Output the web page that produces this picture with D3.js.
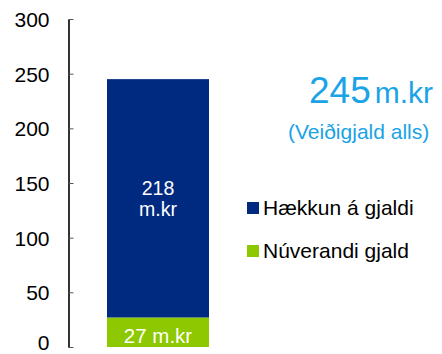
<!DOCTYPE html>
<html>
<head>
<meta charset="utf-8">
<script src="https://cdn.jsdelivr.net/npm/d3@7/dist/d3.min.js"></script>
<style>
  html, body { margin: 0; padding: 0; background: #fff; }
  svg { display: block; font-family: "Liberation Sans", Arial, sans-serif; }
</style>
</head>
<body>
<svg id="chart" width="442" height="354"></svg>
<script>
// Veiðigjald: current fee plus increase, in millions of ISK
const categories = ["Veiðigjald"];
const seriesNames = ["Núverandi gjald", "Hækkun á gjaldi"];
const currentFee = [27];
const feeIncrease = [218];
const barLabels = [["27 m.kr"], ["218", "m.kr"]];
const yTicks = [0, 50, 100, 150, 200, 250, 300];
const legendOrder = ["Hækkun á gjaldi", "Núverandi gjald"];
const totalLabel = "245";
const totalUnit = "m.kr";
const totalCaption = "(Veiðigjald alls)";

const colors = { "Núverandi gjald": "#8dc800", "Hækkun á gjaldi": "#002a7f" };
const accent = "#1aa3e5";

const svg = d3.select("#chart");

const y = d3.scaleLinear().domain([0, 300]).range([347, 19]);
const x = d3.scaleBand().domain(categories).range([107, 209]).padding(0);

const rows = categories.map((c, i) => ({
  cat: c,
  "Núverandi gjald": currentFee[i],
  "Hækkun á gjaldi": feeIncrease[i]
}));
const stack = d3.stack().keys(seriesNames)(rows);

// axis
const axis = d3.axisLeft(y).tickValues(yTicks).tickSizeInner(-5).tickSizeOuter(0).tickPadding(19);
const gAxis = svg.append("g").attr("transform", "translate(68.5,0)").call(axis);
gAxis.select(".domain").attr("stroke", "#000").attr("stroke-width", 1.6);
gAxis.selectAll(".tick line").attr("stroke", "#555").attr("stroke-width", 1);
gAxis.selectAll(".tick text")
  .attr("font-size", 21)
  .attr("fill", "#000")
  .attr("font-family", "Liberation Sans, Arial, sans-serif")
  // keep the bottom label inside the canvas
  .attr("dy", d => d === 0 ? "0.1em" : "0.35em");

// stacked bar
const layers = svg.append("g").selectAll("g").data(stack).join("g")
  .attr("fill", d => colors[d.key]);
layers.selectAll("rect").data(d => d).join("rect")
  .attr("x", d => x(d.data.cat))
  .attr("width", x.bandwidth())
  .attr("y", d => y(d[1]))
  .attr("height", d => y(d[0]) - y(d[1]));

// segment labels
stack.forEach((layer, li) => {
  layer.forEach(d => {
    const lines = barLabels[li];
    const cx = x(d.data.cat) + x.bandwidth() / 2;
    const mid = (y(d[0]) + y(d[1])) / 2;
    const lh = 21;
    const fs = li === 0 ? 20.5 : 19.5;
    const top = li === 0 ? mid + 10.5 : mid - 3;
    const t = svg.append("text")
      .attr("text-anchor", "middle")
      .attr("fill", "#fff")
      .attr("font-size", fs);
    lines.forEach((ln, k) => {
      t.append("tspan").attr("x", cx).attr("y", top + k * lh).text(ln);
    });
  });
});

// total annotation
const tt = svg.append("text").attr("x", 309).attr("y", 103).attr("fill", accent);
tt.append("tspan").attr("font-size", 37).text(totalLabel);
tt.append("tspan").attr("font-size", 30).attr("dx", 4).text(totalUnit);
svg.append("text").attr("x", 288).attr("y", 139).attr("fill", accent)
  .attr("font-size", 21).text(totalCaption);

// legend
const legend = svg.append("g").selectAll("g").data(legendOrder).join("g")
  .attr("transform", (d, i) => `translate(247,${202 + i * 43})`);
legend.append("rect").attr("width", 12).attr("height", 12).attr("fill", d => colors[d]);
legend.append("text").attr("x", 16).attr("y", 13).attr("font-size", 21).attr("fill", "#000").text(d => d);
</script>
</body>
</html>
